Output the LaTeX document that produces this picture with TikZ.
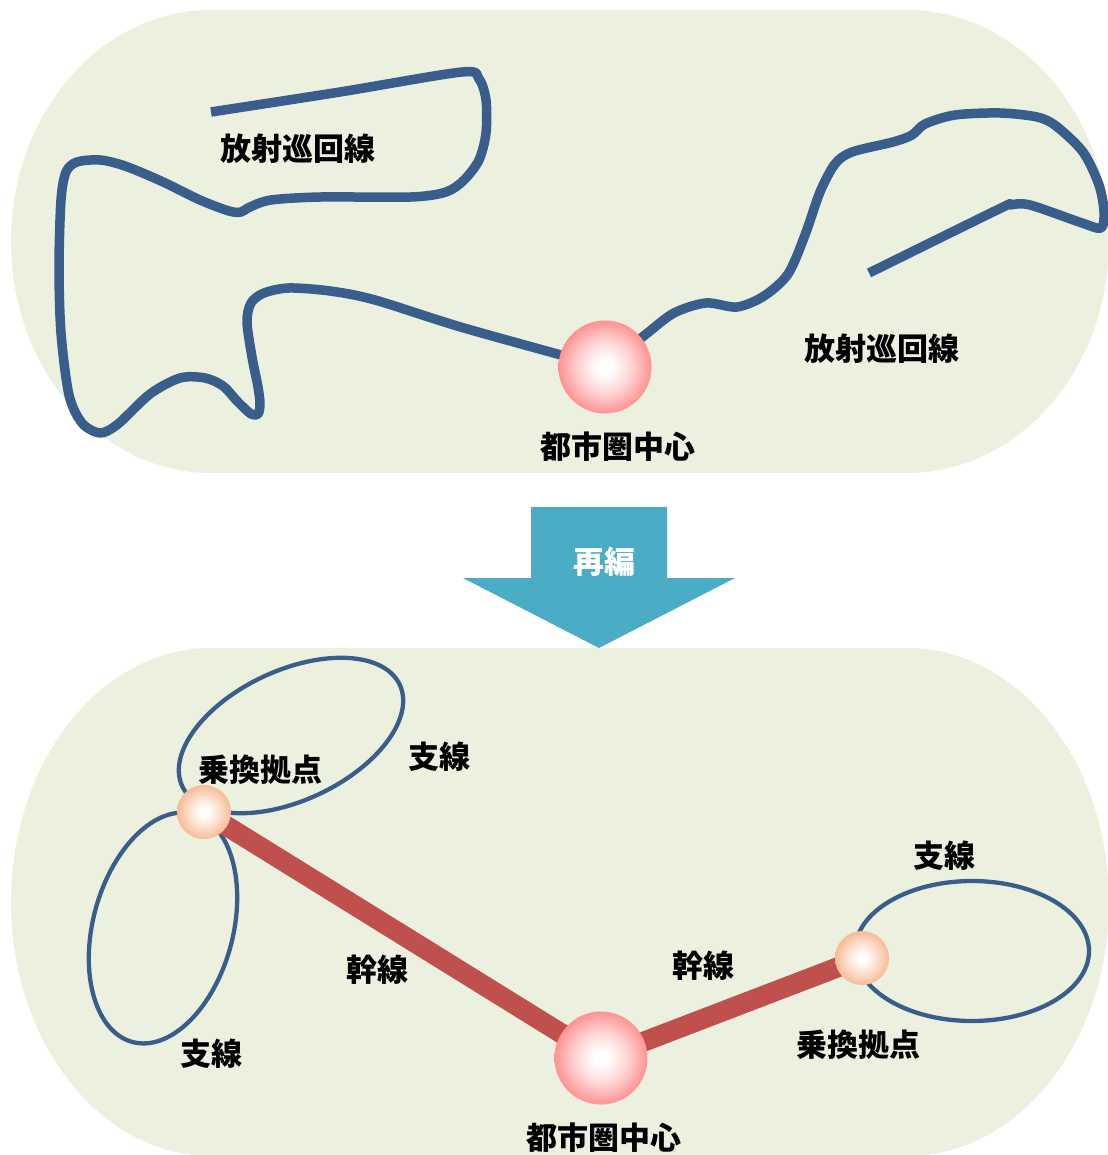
\documentclass[tikz,border=0pt]{standalone}
\usepackage{fontspec}
\newfontfamily\cjk{Noto Sans CJK JP}
\definecolor{panel}{HTML}{EBF1DE}
\definecolor{route}{HTML}{3A5E8C}
\definecolor{trunkc}{HTML}{C0504D}
\definecolor{arrowc}{HTML}{4BACC6}
\definecolor{hubpink}{RGB}{255,128,128}
\definecolor{hubpinkdark}{RGB}{252,118,118}
\definecolor{hubpinklight}{RGB}{255,212,212}
\definecolor{hubpeach}{RGB}{248,176,134}
\definecolor{hubpeachdark}{RGB}{246,168,122}
\definecolor{hubpeachlight}{RGB}{252,224,205}
\pgfdeclareradialshading{hubshade}{\pgfpoint{0bp}{0bp}}{color(0bp)=(white); color(4bp)=(white); color(14bp)=(hubpinklight); color(28bp)=(hubpink); color(50bp)=(hubpinkdark)}
\pgfdeclareradialshading{xfershade}{\pgfpoint{0bp}{0bp}}{color(0bp)=(white); color(4bp)=(white); color(14bp)=(hubpeachlight); color(28bp)=(hubpeach); color(50bp)=(hubpeachdark)}
\pgfdeclarelayer{back}
\pgfdeclarelayer{mid}
\pgfsetlayers{back,mid,main}
\tikzset{
  lbl/.style={font=\cjk\bfseries\fontsize{31}{36}\selectfont, inner sep=0pt, text=black},
  bigball/.style={circle, inner sep=0pt, minimum size=93pt, shading=hubshade},
  smallball/.style={circle, inner sep=0pt, minimum size=54pt, shading=xfershade},
  routeline/.style={draw=route, line width=9.5pt, line join=round},
  branch/.style={draw=route, line width=4.3pt},
  trunk/.style={draw=trunkc, line width=20pt}
}
\begin{document}
\begin{tikzpicture}[x=1pt, y=-1pt]
\useasboundingbox (0,0) rectangle (1107,1155);
% ---------- panels and arrow
\begin{pgfonlayer}{back}
\fill[panel] (211,10) rectangle (907,473);
\fill[panel] (211,241.5) ellipse [x radius=200, y radius=231.5];
\fill[panel] (907,241.5) ellipse [x radius=202, y radius=231.5];
\fill[panel] (211,648) rectangle (907,1160);
\fill[panel] (211,902) ellipse [x radius=200, y radius=254];
\fill[panel] (907,902) ellipse [x radius=202, y radius=254];
\fill[arrowc] (531,507) -- (667,507) -- (667,578) -- (735,578) -- (599,648)
  -- (463,578) -- (531,578) -- cycle;
\end{pgfonlayer}
% ---------- top: before
\node[bigball] (ctrA) at (605,367) {};
\node[lbl] (loopA) at (298,149) {放射巡回線};
\node[lbl] (loopB) at (882,349) {放射巡回線};
\node[lbl] (ctrAl) at (618,447) {都市圏中心};
\begin{pgfonlayer}{mid}
\draw[routeline] plot[smooth, tension=0.5] coordinates {
 (211,112) (340,92) (462,72) (479,79) (486,100) (486,133) (479,160) (464,180)
 (446,192) (411,197) (321,197) (271,200) (250,207) (241,212) (229,211)
 (200,200) (161,181) (125,166) (100,160) (77,162) (66,172) (61,200) (59,267)
 (61,333) (69,395) (82,423) (100,433) (118,424) (150,394) (180,378)
 (205,378) (223,386) (238,402) (251,414) (258,414) (260,404) (258,387)
 (252,357) (247,322) (251,303) (264,293) (289,288) (330,291) (375,300)
 (464,328) (605,367)};
\draw[routeline] plot[smooth, tension=0.5] coordinates {
 (605,367) (645,335) (674,313) (706,303) (737,307) (764,296) (788,274)
 (805,235) (820,192) (835,164) (852,152) (893,142) (912,135) (925,124)
 (955,115) (1000,113) (1037,117) (1056,126) (1083,152) (1099,185)
 (1104,212) (1101,228) (1082,223) (1030,205) (1010,205) (999,209) (869,273)};
\end{pgfonlayer}
% ---------- reorganisation arrow label
\node[lbl, text=white] (reorg) at (604,562) {再編};
% ---------- bottom: after
\node[bigball] (ctrB) at (601,1058) {};
\node[smallball] (xferL) at (204,812) {};
\node[smallball] (xferR) at (862,958) {};
\begin{pgfonlayer}{mid}
\draw[branch, rotate around={25:(291,735.5)}] (291,735.5) ellipse [x radius=120, y radius=65];
\draw[branch, rotate around={75:(163,928)}] (163,928) ellipse [x radius=118, y radius=70];
\draw[branch] (972,951) ellipse [x radius=117, y radius=70];
\draw[trunk] (xferL.center) -- (ctrB.center);
\draw[trunk] (ctrB.center) -- (xferR.center);
\end{pgfonlayer}
\node[lbl] (xferLl) at (260,770) {乗換拠点};
\node[lbl] (brUl) at (439,757) {支線};
\node[lbl] (brLl) at (211,1054) {支線};
\node[lbl] (trLl) at (377,970) {幹線};
\node[lbl] (trRl) at (703,966) {幹線};
\node[lbl] (brRl) at (944,856) {支線};
\node[lbl] (xferRl) at (858,1045) {乗換拠点};
\node[lbl] (ctrBl) at (604,1138) {都市圏中心};
\end{tikzpicture}
\end{document}
